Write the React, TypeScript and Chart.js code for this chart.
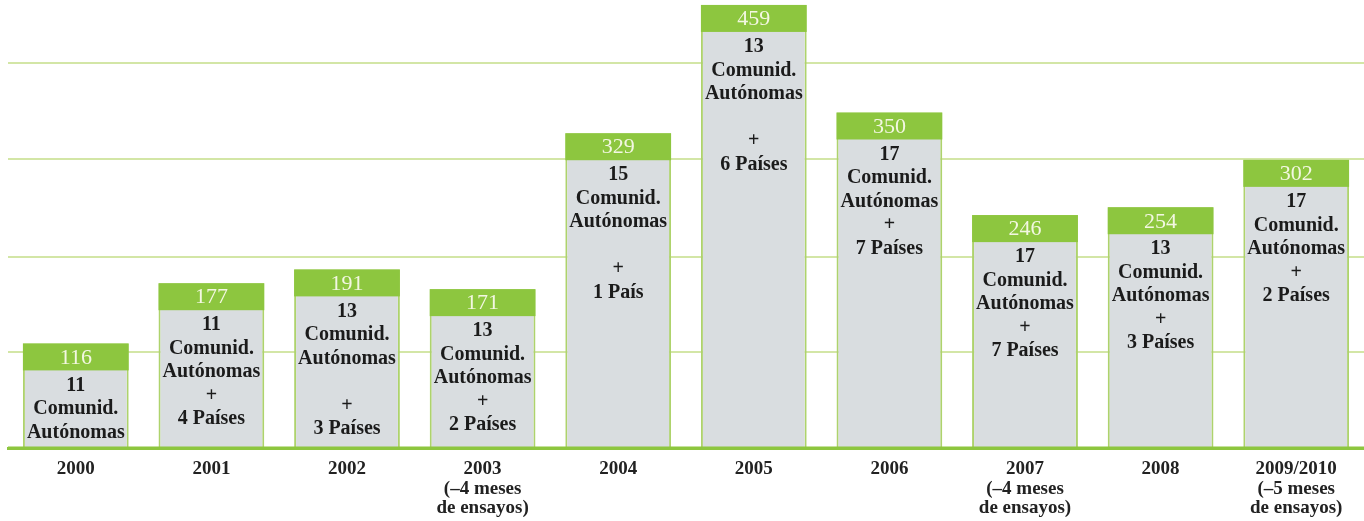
import React, { useEffect, useRef } from "react";
import { Chart, registerables } from "chart.js";

Chart.register(...registerables);

const categories: string[][] = [
  ["2000"],
  ["2001"],
  ["2002"],
  ["2003", "(–4 meses", "de ensayos)"],
  ["2004"],
  ["2005"],
  ["2006"],
  ["2007", "(–4 meses", "de ensayos)"],
  ["2008"],
  ["2009/2010", "(–5 meses", "de ensayos)"],
];

const values: number[] = [116, 177, 191, 171, 329, 459, 350, 246, 254, 302];

const barTexts: string[][] = [
  ["11", "Comunid.", "Autónomas"],
  ["11", "Comunid.", "Autónomas", "+", "4 Países"],
  ["13", "Comunid.", "Autónomas", "", "+", "3 Países"],
  ["13", "Comunid.", "Autónomas", "+", "2 Países"],
  ["15", "Comunid.", "Autónomas", "", "+", "1 País"],
  ["13", "Comunid.", "Autónomas", "", "+", "6 Países"],
  ["17", "Comunid.", "Autónomas", "+", "7 Países"],
  ["17", "Comunid.", "Autónomas", "+", "7 Países"],
  ["13", "Comunid.", "Autónomas", "+", "3 Países"],
  ["17", "Comunid.", "Autónomas", "+", "2 Países"],
];

const gridValues: number[] = [107, 204, 303, 400];
const yMin = 10;
const yMax = 464;

const GREEN = "#8dc63f";
const GRID = "#d3e6a6";
const BAR_FILL = "#d9dde0";
const BAR_BORDER = "#aed36c";
const SERIF = '"Liberation Serif"';

const barDecor = {
  id: "barDecor",
  afterDatasetsDraw(chart: any) {
    const ctx = chart.ctx;
    const meta = chart.getDatasetMeta(0);
    const area = chart.chartArea;
    ctx.save();
    ctx.strokeStyle = GREEN;
    ctx.lineWidth = 3;
    ctx.beginPath();
    ctx.moveTo(area.left, area.bottom);
    ctx.lineTo(area.right, area.bottom);
    ctx.stroke();
    meta.data.forEach((bar: any, i: number) => {
      const { x, y, width } = bar.getProps(["x", "y", "width"], true);
      const bandH = 27;
      ctx.fillStyle = GREEN;
      ctx.fillRect(x - width / 2, y, width, bandH);
      ctx.textAlign = "center";
      ctx.textBaseline = "middle";
      ctx.fillStyle = "#f3f7e2";
      ctx.font = `22px ${SERIF}`;
      ctx.fillText(String(values[i]), x, y + bandH / 2 + 1);
      ctx.fillStyle = "#1b1b1b";
      ctx.font = `bold 20px ${SERIF}`;
      barTexts[i].forEach((line, j) => {
        if (line) ctx.fillText(line, x, y + bandH + 15 + j * 23.5);
      });
    });
    ctx.restore();
  },
};

export default function App() {
  const canvasRef = useRef<HTMLCanvasElement | null>(null);

  useEffect(() => {
    let chart: Chart | null = null;
    let cancelled = false;
    const build = () => {
      if (cancelled || !canvasRef.current) return;
      chart = new Chart(canvasRef.current, {
        type: "bar",
        data: {
          labels: categories,
          datasets: [
            {
              data: values,
              backgroundColor: BAR_FILL,
              borderColor: BAR_BORDER,
              borderWidth: 2,
              borderSkipped: "start",
              base: yMin,
              barPercentage: 0.78,
              categoryPercentage: 1,
            } as any,
          ],
        },
        options: {
          responsive: false,
          animation: false,
          layout: { padding: { left: 8, right: 0, top: 0, bottom: 0 } },
          plugins: {
            legend: { display: false },
            tooltip: { enabled: false },
          },
          scales: {
            x: {
              grid: { display: false, drawTicks: false },
              border: { display: true, color: GREEN, width: 3 },
              ticks: {
                color: "#222222",
                font: { family: SERIF, size: 19, weight: "bold", lineHeight: 1.04 },
                padding: 11,
                maxRotation: 0,
                autoSkip: false,
              },
              afterFit: (scale: any) => {
                scale.height = 73;
              },
            },
            y: {
              min: yMin,
              max: yMax,
              grid: { color: GRID, lineWidth: 2, drawTicks: false },
              border: { display: false },
              ticks: { display: false },
              afterBuildTicks: (scale: any) => {
                scale.ticks = gridValues.map((v) => ({ value: v }));
              },
              afterFit: (scale: any) => {
                scale.width = 0;
              },
            },
          },
        },
        plugins: [barDecor],
      });
    };
    const fonts = (document as any).fonts;
    const ready = fonts && fonts.ready ? fonts.ready : Promise.resolve();
    ready
      .catch(() => null)
      .then(() => {
        setTimeout(build, 50);
      });
    return () => {
      cancelled = true;
      if (chart) chart.destroy();
    };
  }, []);

  return (
    <div style={{ position: "absolute", left: 0, top: 0, width: 1364, height: 521, background: "#ffffff" }}>
      <canvas ref={canvasRef} width={1364} height={521} />
      <div
        aria-hidden="true"
        style={{ position: "absolute", left: 0, top: 0, visibility: "hidden", fontFamily: SERIF }}
      >
        <span style={{ fontWeight: "bold" }}>Comunid. Autónomas</span>
        <span style={{ fontWeight: "normal" }}>459</span>
      </div>
    </div>
  );
}
